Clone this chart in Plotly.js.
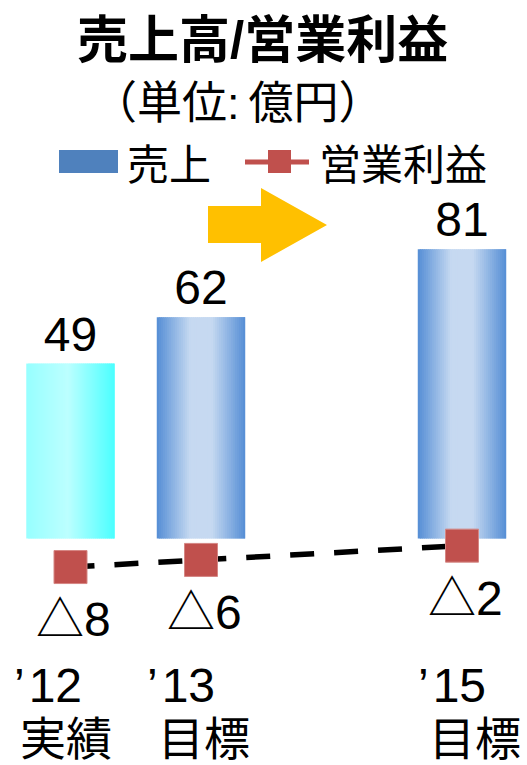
<!DOCTYPE html>
<html>
<head>
<meta charset="utf-8">
<script src="https://cdn.plot.ly/plotly-3.0.1.min.js"></script>
<style>
  html, body { margin: 0; padding: 0; background: #ffffff; }
  #chart { width: 527px; height: 765px; }
</style>
</head>
<body>
<div id="chart"></div>
<script>
// ---- data ----
const years = [2012, 2013, 2015];
const yearLabels = ["\u2019" + "12", "\u2019" + "13", "\u2019" + "15"];
const statusLabels = ["実績", "目標", "目標"];
const sales = [49, 62, 81];
const operatingProfit = [-8, -6, -2];

// ---- styles ----
const FONT = "Liberation Sans, Arial, Noto Sans CJK JP, sans-serif";
const CJK = "Noto Sans CJK JP, sans-serif";
const W = 527, H = 765;
const M = { l: 0, r: 0, t: 150, b: 155 };
const plotH = H - M.t - M.b;

// horizontal nudges (px) for the two lines of each category label
const yearNudge = [-23, -20, -10];
const statusNudge = [-5, 3, 13];

// pixel helpers for decorations drawn in paper space
const px = v => v / W;
const py = v => (H - M.b - v) / plotH;

// horizontal gradient fill for each bar, built from thin overlapping stripes
const gradients = {
  cyan: [[0, "#97FFFF"], [0.47, "#BCFFFF"], [1, "#4BFFFF"]],
  blue: [[0, "#558ED5"], [0.38, "#C6D9F1"], [0.62, "#C6D9F1"], [1, "#558ED5"]]
};
const barFill = ["cyan", "blue", "blue"];
const BAR_W = 0.678;
const STRIPES = 44;

function hexToRgb(h) {
  const n = parseInt(h.slice(1), 16);
  return [(n >> 16) & 255, (n >> 8) & 255, n & 255];
}
function colorAt(stops, t) {
  for (let k = 1; k < stops.length; k++) {
    if (t <= stops[k][0]) {
      const [t0, c0] = stops[k - 1], [t1, c1] = stops[k];
      const f = (t - t0) / (t1 - t0 || 1);
      const a = hexToRgb(c0), b = hexToRgb(c1);
      const c = a.map((v, j) => Math.round(v + (b[j] - v) * f));
      return "rgb(" + c.join(",") + ")";
    }
  }
  return stops[stops.length - 1][1];
}

const traces = [];
for (let i = 0; i < STRIPES; i++) {
  const t = (i + 0.5) / STRIPES;
  const off = -BAR_W / 2 + i * BAR_W / STRIPES;
  const wd = Math.min(BAR_W / STRIPES * 1.8, BAR_W / 2 - off);
  traces.push({
    type: "bar",
    x: years,
    y: sales,
    offset: off,
    width: wd,
    marker: { color: barFill.map(g => colorAt(gradients[g], t)), line: { width: 0 } },
    hoverinfo: "skip",
    showlegend: false
  });
}

// value labels above the sales bars
traces.push({
  type: "bar",
  x: years,
  y: sales,
  width: BAR_W,
  marker: { color: "rgba(0,0,0,0)", line: { width: 0 } },
  text: sales.map(String),
  textposition: "outside",
  constraintext: "none",
  cliponaxis: false,
  textfont: { family: FONT, size: 48, color: "#000000" },
  hoverinfo: "skip",
  showlegend: false
});

// operating profit line
traces.push({
  type: "scatter",
  mode: "lines+markers",
  x: years,
  y: operatingProfit,
  cliponaxis: false,
  line: { color: "#000000", width: 5.5, dash: "24px,20px" },
  marker: { symbol: "square", size: 33, color: "#C0504D", line: { width: 1, color: "#D58683" } },
  hoverinfo: "skip",
  showlegend: false
});

// profit values under the markers (negative values written with △)
const profitText = operatingProfit.map(v => (v < 0 ? "△" + Math.abs(v) : String(v)));
const annotations = years.map((yr, i) => ({
  xref: "x", yref: "y",
  x: yr, y: operatingProfit[i],
  xanchor: "center", yanchor: "top",
  xshift: 3, yshift: -24,
  showarrow: false,
  text: profitText[i],
  font: { family: FONT, size: 48, color: "#000000" }
}));

// category labels under each year: year on the first line, status on the second
years.forEach((yr, i) => {
  annotations.push({
    xref: "x", yref: "paper",
    x: yr, y: py(657),
    xanchor: "center", yanchor: "top",
    xshift: yearNudge[i],
    showarrow: false,
    text: yearLabels[i].replace("\u2019", "\u2019\u200A"),
    font: { family: FONT, size: 48, color: "#000000" }
  });
  annotations.push({
    xref: "x", yref: "paper",
    x: yr, y: py(700),
    xanchor: "center", yanchor: "top",
    xshift: statusNudge[i],
    showarrow: false,
    text: statusLabels[i],
    font: { family: CJK, size: 46, color: "#000000" }
  });
});

// title, unit note and legend text
annotations.push(
  {
    xref: "paper", yref: "paper", x: px(262), y: py(41),
    xanchor: "center", yanchor: "middle", showarrow: false,
    text: "<b>売上高/営業利益</b>",
    font: { family: FONT, size: 51, color: "#000000" }
  },
  {
    xref: "paper", yref: "paper", x: px(238), y: py(104),
    xanchor: "center", yanchor: "middle", showarrow: false,
    text: "（単位:\u2009億円）",
    font: { family: FONT, size: 45, color: "#000000" }
  },
  {
    xref: "paper", yref: "paper", x: px(125), y: py(162),
    xanchor: "left", yanchor: "middle", showarrow: false,
    text: "売上",
    font: { family: CJK, size: 42, color: "#000000" }
  },
  {
    xref: "paper", yref: "paper", x: px(317), y: py(162),
    xanchor: "left", yanchor: "middle", showarrow: false,
    text: "営業利益",
    font: { family: CJK, size: 42, color: "#000000" }
  }
);

// legend swatches and the orange arrow
const arrowPts = [[208, 206], [261, 206], [261, 188], [327, 225], [261, 262], [261, 243], [208, 243]];
const arrowPath = "M" + arrowPts.map(p => px(p[0]) + "," + py(p[1])).join("L") + "Z";

const shapes = [
  {
    type: "rect", xref: "paper", yref: "paper",
    x0: px(59), x1: px(118), y0: py(150), y1: py(173),
    fillcolor: "#4F81BD", line: { width: 0 }
  },
  {
    type: "line", xref: "paper", yref: "paper",
    x0: px(245), x1: px(309), y0: py(162), y1: py(162),
    line: { color: "#C0504D", width: 5 }
  },
  {
    type: "rect", xref: "paper", yref: "paper",
    x0: px(268), x1: px(291), y0: py(150), y1: py(173),
    fillcolor: "#C0504D", line: { width: 0 }
  },
  {
    type: "path", xref: "paper", yref: "paper",
    path: arrowPath,
    fillcolor: "#FFC000", line: { width: 0 }
  }
];

// axis scales: 2012 sits at 70.5 px, one year spans 130.5 px; zero at 538.5 px, 3.57 px per 億円
const X0 = 2012 - 70.5 / 130.5;
const X1 = X0 + W / 130.5;
const Y_SCALE = 3.57;
const ZERO_PX = 538.5;
const Y1 = (ZERO_PX - M.t) / Y_SCALE;
const Y0 = -(H - M.b - ZERO_PX) / Y_SCALE;

const layout = {
  width: W,
  height: H,
  margin: M,
  paper_bgcolor: "#ffffff",
  plot_bgcolor: "#ffffff",
  barmode: "overlay",
  showlegend: false,
  hovermode: false,
  font: { family: FONT, color: "#000000" },
  xaxis: { range: [X0, X1], visible: false, fixedrange: true },
  yaxis: { range: [Y0, Y1], visible: false, fixedrange: true, zeroline: false },
  annotations: annotations,
  shapes: shapes
};

Plotly.newPlot("chart", traces, layout, { staticPlot: true, displayModeBar: false });
</script>
</body>
</html>
